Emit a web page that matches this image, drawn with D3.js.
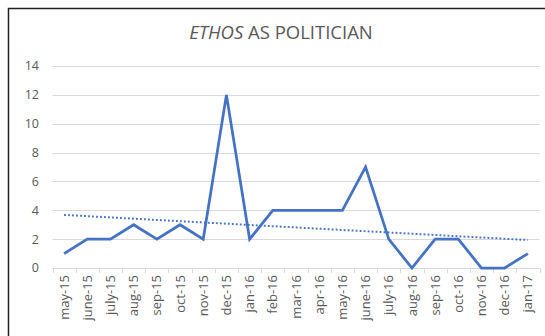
<!DOCTYPE html>
<html>
<head>
<meta charset="utf-8">
<script src="https://cdn.jsdelivr.net/npm/d3@7"></script>
<style>
  body { margin: 0; background: #fff; }
  svg { display: block; font-family: "Open Sans", "Noto Sans", sans-serif; }
</style>
</head>
<body>
<svg width="545" height="336"></svg>
<script>
var months = ['may-15', 'june-15', 'july-15', 'aug-15', 'sep-15', 'oct-15', 'nov-15', 'dec-15',
  'jan-16', 'feb-16', 'mar-16', 'apr-16', 'may-16', 'june-16', 'july-16', 'aug-16',
  'sep-16', 'oct-16', 'nov-16', 'dec-16', 'jan-17'];
var counts = [1, 2, 2, 3, 2, 3, 2, 12, 2, 4, 4, 4, 4, 7, 2, 0, 2, 2, 0, 0, 1];
var yTicks = [0, 2, 4, 6, 8, 10, 12, 14];

var svg = d3.select('svg');
var plotLeft = 52.5, plotRight = 539.5, plotTop = 66, plotBottom = 268;
var grey = '#595959';

// chart frame
svg.append('rect')
  .attr('x', 8.5).attr('y', 8.5)
  .attr('width', 545).attr('height', 340)
  .attr('fill', '#fff')
  .attr('stroke', '#222')
  .attr('stroke-width', 1.5);

var x = d3.scaleBand().domain(months).range([plotLeft, plotRight]);
var y = d3.scaleLinear().domain([0, 14]).range([plotBottom, plotTop]);

// gridlines
svg.append('g')
  .selectAll('line')
  .data(yTicks.slice(1))
  .enter()
  .append('line')
  .attr('x1', plotLeft).attr('x2', plotRight)
  .attr('y1', (d) => Math.round(y(d)) + 0.5)
  .attr('y2', (d) => Math.round(y(d)) + 0.5)
  .attr('stroke', '#d9d9d9')
  .attr('stroke-width', 1);

// y labels
svg.append('g')
  .selectAll('text')
  .data(yTicks)
  .enter()
  .append('text')
  .attr('x', 39)
  .attr('y', (d) => y(d))
  .attr('dy', '0.35em')
  .attr('text-anchor', 'end')
  .attr('fill', grey)
  .style('font-size', '12.5px')
  .text((d) => d);

// x axis line + tick marks at band edges
svg.append('line')
  .attr('x1', plotLeft).attr('x2', plotRight)
  .attr('y1', plotBottom + 0.5).attr('y2', plotBottom + 0.5)
  .attr('stroke', '#d9d9d9');

svg.append('g')
  .selectAll('line')
  .data(d3.range(months.length + 1))
  .enter()
  .append('line')
  .attr('x1', (i) => Math.round(plotLeft + i * x.step()) + 0.5)
  .attr('x2', (i) => Math.round(plotLeft + i * x.step()) + 0.5)
  .attr('y1', plotBottom)
  .attr('y2', plotBottom + 5)
  .attr('stroke', '#d9d9d9');

svg.append('g')
  .selectAll('text')
  .data(months)
  .enter()
  .append('text')
  .attr('transform', (d) => 'translate(' + (x(d) + x.bandwidth() / 2) + ',' + (plotBottom + 7) + ') rotate(-90)')
  .attr('dy', '0.35em')
  .attr('text-anchor', 'end')
  .attr('fill', grey)
  .style('font-size', '13px')
  .text((d) => d);

// series line
var cx = (d, i) => x(months[i]) + x.bandwidth() / 2;
svg.append('path')
  .datum(counts)
  .attr('fill', 'none')
  .attr('stroke', '#4472c4')
  .attr('stroke-width', 2.75)
  .attr('stroke-linejoin', 'miter')
  .attr('d', d3.line().x(cx).y((d) => y(d)));

// linear trendline (least squares)
var n = counts.length;
var xm = d3.mean(counts, (d, i) => i);
var ym = d3.mean(counts);
var slope = d3.sum(counts, (d, i) => (i - xm) * (d - ym)) / d3.sum(counts, (d, i) => (i - xm) * (i - xm));
var icpt = ym - slope * xm;
svg.append('line')
  .attr('x1', cx(0, 0)).attr('y1', y(icpt))
  .attr('x2', cx(0, n - 1)).attr('y2', y(icpt + slope * (n - 1)))
  .attr('stroke', '#4472c4')
  .attr('stroke-width', 2)
  .attr('stroke-dasharray', '1.8,2.2');

// title
var title = svg.append('text')
  .attr('x', 281)
  .attr('y', 39)
  .attr('text-anchor', 'middle')
  .attr('fill', grey)
  .style('font-size', '18.5px');
title.append('tspan').style('font-style', 'italic').text('ETHOS');
title.append('tspan').text(' AS POLITICIAN');
</script>
</body>
</html>
